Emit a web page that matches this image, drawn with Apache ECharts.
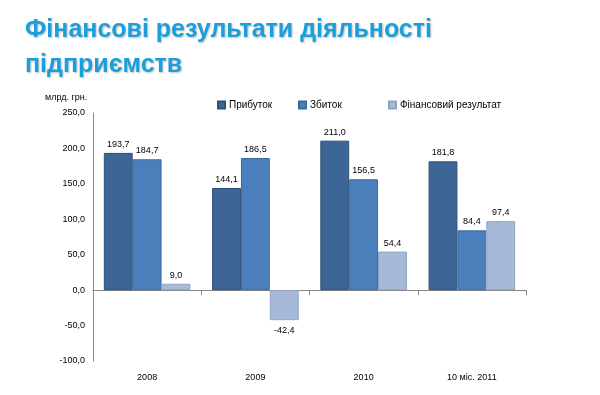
<!DOCTYPE html>
<html><head><meta charset="utf-8">
<script src="https://cdn.jsdelivr.net/npm/echarts@6/dist/echarts.min.js"></script>
<style>html,body{margin:0;padding:0;background:#fff}#c{width:600px;height:395px}</style>
</head><body><div id="c"></div>
<script>
const categories = ['2008', '2009', '2010', '10 міс. 2011'];
const profit = [193.7, 144.1, 211.0, 181.8];
const loss = [184.7, 186.5, 156.5, 84.4];
const result = [9.0, -42.4, 54.4, 97.4];
const seriesNames = ['Прибуток', 'Збиток', 'Фінансовий результат'];
const yTicks = {min: -100, max: 250, interval: 50};

const fmt = v => Number(v).toFixed(1).replace('.', ',');
const font = 'Liberation Sans';
const colors = ['#3D6696', '#4B7FBC', '#A7B9D9'];
const borders = ['#2E5079', '#3C6A9E', '#8FA3C6'];

function mk(name, vals, i) {
  return {
    name: name, type: 'bar', barGap: '0%', barCategoryGap: '20%', xAxisIndex: 0,
    itemStyle: {color: colors[i], borderColor: borders[i], borderWidth: 1},
    label: {show: true, position: 'top', distance: 4, color: '#000', fontSize: 9, fontFamily: font,
            formatter: p => fmt(p.value)},
    data: vals.map(v => v < 0 ? {value: v, label: {position: 'bottom', distance: 6}} : v)
  };
}

const chart = echarts.init(document.getElementById('c'), null, {renderer: 'canvas'});
chart.setOption({
  animation: false,
  title: [{
    text: 'Фінансові результати діяльності\nпідприємств',
    left: 20, top: 8,
    textStyle: {color: '#1B9FDC', fontSize: 25, fontWeight: 'bold', fontFamily: font, lineHeight: 35,
                textShadowColor: 'rgba(0,0,0,0.25)', textShadowBlur: 2, textShadowOffsetX: 1, textShadowOffsetY: 1}
  }, {
    text: 'млрд. грн.', left: 40, top: 88,
    textStyle: {color: '#000', fontSize: 9, fontWeight: 'normal', fontFamily: font}
  }],
  legend: [0, 1, 2].map((i) => ({
    data: [seriesNames[i]], left: [212, 293, 383][i], top: 95,
    itemWidth: 7, itemHeight: 7, itemGap: 5, icon: 'rect',
    textStyle: {fontSize: 10, fontFamily: font, color: '#000', padding: [0, 0, 0, -1]}
  })),
  grid: {left: 93, right: 74, top: 113, bottom: 34, containLabel: false},
  xAxis: [{
    type: 'category', data: categories,
    axisLine: {onZero: true, lineStyle: {color: '#888', width: 1}},
    axisTick: {show: true, length: 5, lineStyle: {color: '#888'}},
    axisLabel: {show: false}
  }, {
    type: 'category', data: categories, position: 'bottom',
    axisLine: {show: false, onZero: false},
    axisTick: {show: false},
    axisLabel: {show: true, color: '#000', fontSize: 9, fontFamily: font, margin: 12}
  }],
  yAxis: {
    type: 'value', min: yTicks.min, max: yTicks.max, interval: yTicks.interval,
    axisLine: {show: true, lineStyle: {color: '#888'}},
    axisTick: {show: false},
    splitLine: {show: false},
    axisLabel: {color: '#000', fontSize: 9, fontFamily: font, margin: 8, formatter: v => fmt(v)}
  },
  series: [mk(seriesNames[0], profit, 0), mk(seriesNames[1], loss, 1), mk(seriesNames[2], result, 2)]
});
</script></body></html>
